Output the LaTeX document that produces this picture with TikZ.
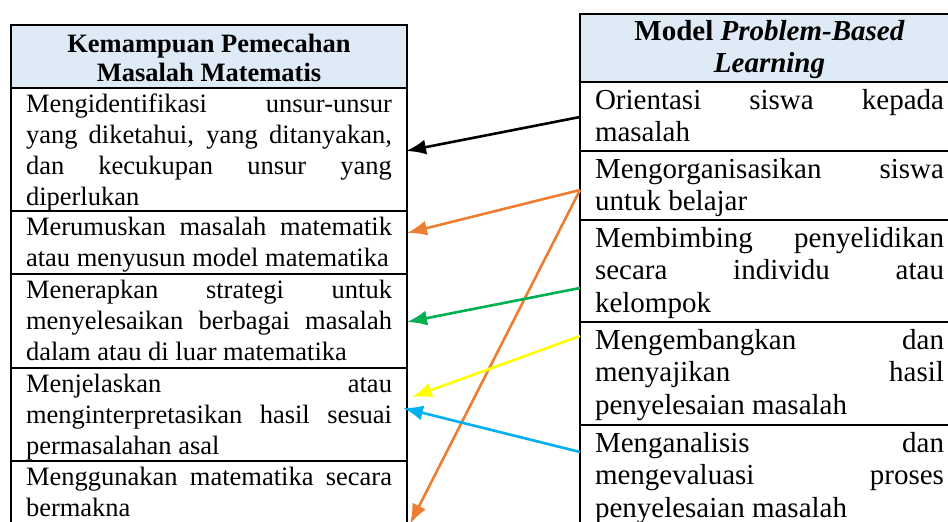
\documentclass[tikz,border=0pt]{standalone}
\usepackage{fontspec}
\setmainfont{Liberation Serif}
\usepackage{xcolor}
\usetikzlibrary{arrows.meta, positioning}

\definecolor{birumuda}{HTML}{DEEAF6}
\definecolor{oranye}{HTML}{ED7D31}
\definecolor{hijau}{HTML}{00B050}
\definecolor{kuning}{HTML}{FFFF00}
\definecolor{birulangit}{HTML}{00B0F0}

%% isi sel: tinggi, teks
\newcommand{\rata}{\tolerance=10000 \hyphenpenalty=10000 \exhyphenpenalty=10000 }
\newcommand{\kiri}[2]{\parbox[c][#1][t]{366pt}{\fontsize{26.5}{31}\selectfont\rata\rule{0pt}{24.5pt}#2}}
\newcommand{\kanan}[2]{\parbox[c][#1][t]{349pt}{\fontsize{29}{32.5}\selectfont\rata\rule{0pt}{27pt}#2}}
\newcommand{\judulkiri}[2]{\parbox[c][#1][t]{366pt}{\centering\fontsize{26.5}{29}\selectfont\bfseries\rule{0pt}{27pt}#2}}
\newcommand{\judulkanan}[2]{\parbox[c][#1][t]{349pt}{\centering\fontsize{29}{32}\selectfont\bfseries\rule{0pt}{26pt}#2}}

\tikzset{
	sel/.style={draw, line width=2pt, inner xsep=15pt, inner ysep=0pt, outer sep=0pt, anchor=north west},
	kepala/.style={sel, fill=birumuda},
	panah/.style={-{Latex[length=20pt, width=15pt]}, line width=2.6pt}
}

\begin{document}
\begin{tikzpicture}[x=1pt, y=-1pt]
			\useasboundingbox (0,0) rectangle (948,522);
			\clip (0,0) rectangle (948,522);

			%% Kemampuan Pemecahan Masalah
			\node[kepala] (kh) at (11,25) {\judulkiri{63pt}{Kemampuan Pemecahan\\Masalah Matematis}};
			\node[sel] (k1) at (kh.south west) {\kiri{123pt}{Mengidentifikasi unsur-unsur\linebreak yang diketahui, yang ditanyakan,\linebreak dan kecukupan unsur yang\linebreak diperlukan}};
			\node[sel] (k2) at (k1.south west) {\kiri{63pt}{Merumuskan masalah matematik\linebreak atau menyusun model matematika}};
			\node[sel] (k3) at (k2.south west) {\kiri{94pt}{Menerapkan strategi untuk\linebreak menyelesaikan berbagai masalah\linebreak dalam atau di luar matematika}};
			\node[sel] (k4) at (k3.south west) {\kiri{93pt}{Menjelaskan atau\linebreak menginterpretasikan hasil sesuai\linebreak permasalahan asal}};
			\node[sel] (k5) at (k4.south west) {\kiri{93pt}{Menggunakan matematika secara\linebreak bermakna}};

			%% Model PBL
			\node[kepala] (mh) at (580,14) {\judulkanan{68pt}{Model \textit{Problem-Based}\\\textit{Learning}}};
			\node[sel] (m1) at (mh.south west) {\kanan{69pt}{Orientasi siswa kepada\linebreak masalah}};
			\node[sel] (m2) at (m1.south west) {\kanan{69pt}{Mengorganisasikan siswa\linebreak untuk belajar}};
			\node[sel] (m3) at (m2.south west) {\kanan{102pt}{Membimbing penyelidikan\linebreak secara individu atau\linebreak kelompok}};
			\node[sel] (m4) at (m3.south west) {\kanan{103pt}{Mengembangkan dan\linebreak menyajikan hasil\linebreak penyelesaian masalah}};
			\node[sel] (m5) at (m4.south west) {\kanan{100pt}{Menganalisis dan\linebreak mengevaluasi proses\linebreak penyelesaian masalah}};

			%% panah
			\draw[panah, black] ([yshift=-35pt]m1.north west) -- ([xshift=-1pt, yshift=-63pt]k1.north east);
			\draw[panah, oranye] ([yshift=-39pt]m2.north west) -- ([yshift=-22pt]k2.north east);
			\draw[panah, oranye] ([yshift=-39pt]m2.north west) -- ([xshift=3pt, yshift=-63pt]k5.north east);
			\draw[panah, hijau] ([yshift=-68pt]m3.north west) -- ([yshift=-48pt]k3.north east);
			\draw[panah, kuning] ([yshift=-14pt]m4.north west) -- ([xshift=5pt, yshift=-29pt]k4.north east);
			\draw[panah, birulangit] ([yshift=-27pt]m5.north west) -- ([xshift=-4pt, yshift=-40pt]k4.north east);
\end{tikzpicture}
\end{document}
